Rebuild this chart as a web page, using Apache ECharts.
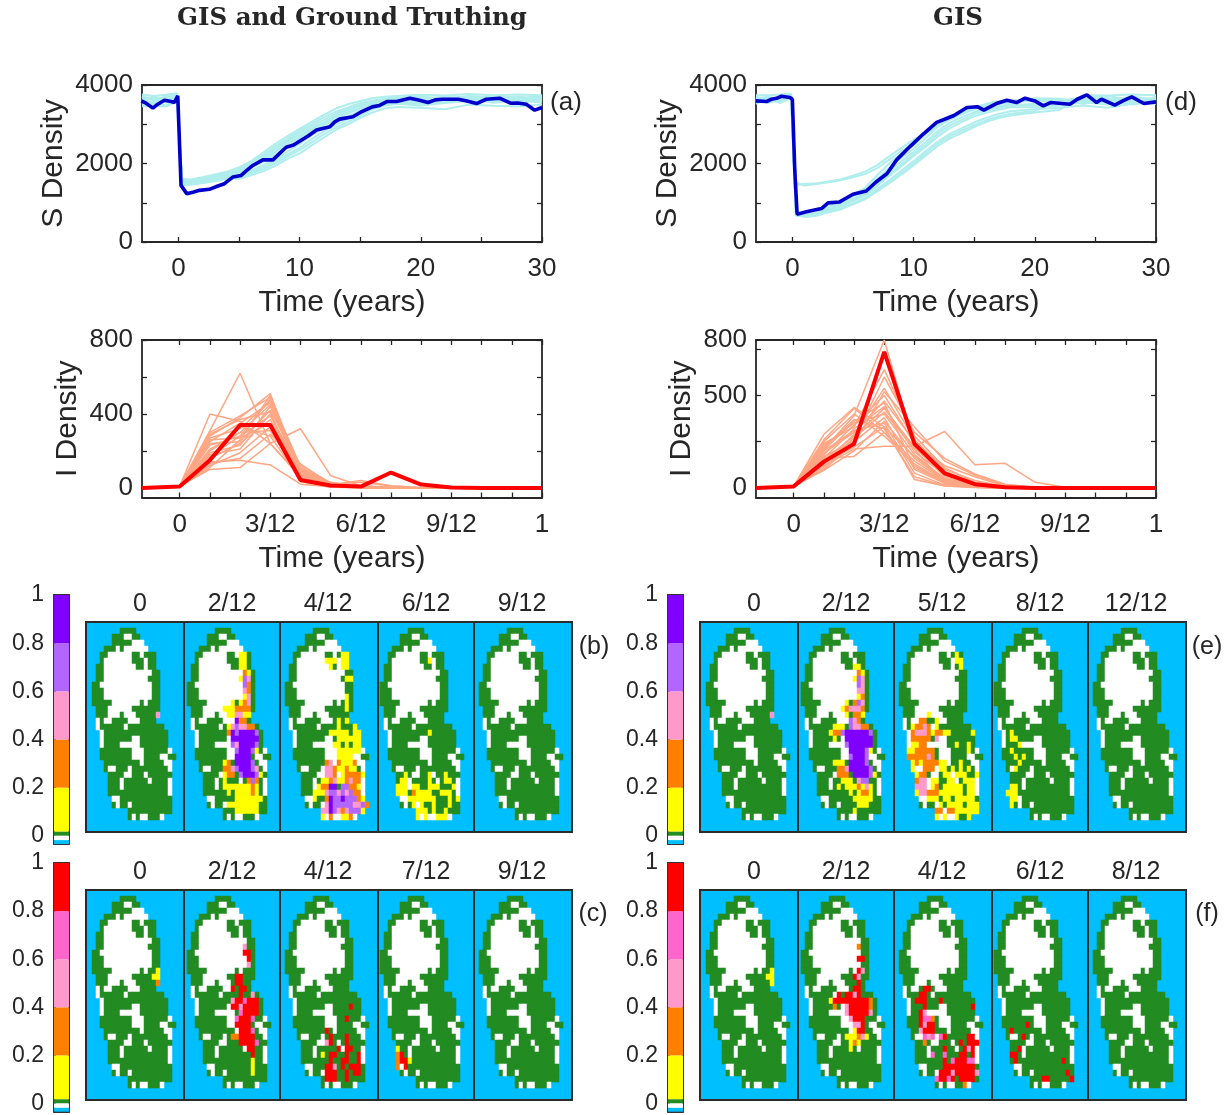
<!DOCTYPE html>
<html><head><meta charset="utf-8">
<style>html,body{margin:0;padding:0;background:#fff}#c{width:1231px;height:1115px}</style>
<script src="https://cdn.jsdelivr.net/npm/echarts@6/dist/echarts.min.js"></script></head>
<body><div id="c"></div>
<script>
// ---------- S density data (years, density)
const sYears=[-3,-2,-1,-0.1,0.3,1,2,3,4,5,6,7,8,9,10,11,12,13,14,15,16,17,18,20,22,24,26,28,30];
const sEnsembleA=[
[3700,3620,3680,3760,1590,1560,1620,1690,1760,1860,2020,2220,2440,2640,2830,3000,3180,3320,3430,3540,3600,3650,3680,3700,3660,3720,3680,3700,3650],
[3600,3680,3640,3700,1540,1520,1570,1640,1720,1800,1950,2120,2340,2560,2720,2900,3050,3230,3360,3470,3560,3600,3640,3640,3700,3620,3700,3660,3720],
[3560,3500,3600,3650,1500,1500,1540,1600,1680,1760,1880,2040,2220,2420,2620,2810,2980,3120,3280,3400,3500,3560,3610,3600,3620,3680,3600,3640,3600],
[3650,3700,3560,3720,1470,1480,1520,1580,1650,1720,1820,1960,2120,2300,2500,2720,2900,3050,3200,3340,3460,3520,3570,3560,3640,3560,3660,3580,3680],
[3500,3560,3480,3620,1560,1540,1590,1650,1700,1690,1790,1900,2060,2230,2400,2620,2820,2990,3130,3280,3420,3500,3540,3520,3560,3640,3550,3620,3550],
[3720,3600,3720,3680,1520,1510,1550,1620,1700,1780,1910,2080,2290,2500,2670,2850,3020,3180,3310,3430,3530,3620,3600,3680,3600,3700,3640,3560,3700],
[3620,3540,3620,3780,1450,1470,1510,1560,1630,1640,1750,1850,2000,2180,2340,2540,2740,2920,3060,3220,3380,3470,3520,3480,3540,3600,3620,3520,3640],
[3680,3640,3560,3700,1580,1550,1600,1670,1740,1830,1990,2170,2400,2600,2780,2950,3110,3270,3400,3500,3570,3640,3660,3640,3680,3660,3700,3680,3600],
[3760,3720,3750,3790,1610,1590,1650,1720,1790,1900,2060,2280,2500,2700,2880,3060,3240,3400,3510,3590,3660,3700,3720,3750,3730,3770,3740,3760,3740],
[3460,3470,3450,3600,1440,1460,1500,1550,1610,1610,1700,1800,1940,2120,2260,2460,2660,2860,3000,3160,3300,3400,3440,3420,3380,3500,3470,3450,3500]];
const sEnsembleD=[
[3650,3700,3640,3740,1520,1440,1480,1520,1570,1650,1730,1880,2100,2320,2520,2740,2950,3120,3260,3400,3480,3550,3600,3620,3560,3640,3580,3700,3600],
[3560,3600,3700,3680,1450,1480,1500,1540,1600,1690,1790,1960,2180,2400,2600,2800,3000,3160,3300,3430,3520,3590,3560,3660,3650,3560,3660,3540,3650],
[3620,3560,3600,3660,760,700,740,900,1040,1200,1380,1700,2000,2260,2450,2760,3040,3220,3330,3440,3500,3560,3600,3640,3560,3680,3720,3620,3560],
[3700,3620,3560,3720,720,680,720,870,1000,1160,1320,1600,1890,2150,2370,2650,2930,3130,3260,3380,3450,3510,3560,3600,3640,3520,3620,3700,3640],
[3520,3660,3640,3700,700,660,700,840,960,1100,1260,1520,1800,2060,2290,2550,2830,3040,3180,3310,3380,3450,3510,3480,3580,3660,3540,3620,3520],
[3640,3580,3720,3640,680,650,680,800,910,1040,1180,1430,1680,1930,2190,2420,2690,2900,3060,3200,3290,3370,3440,3430,3480,3560,3500,3560,3620],
[3580,3700,3540,3680,740,690,730,780,860,980,1120,1350,1580,1820,2060,2320,2560,2760,2900,3050,3160,3260,3330,3380,3420,3480,3420,3520,3700],
[3680,3540,3660,3760,670,670,710,760,830,960,1090,1310,1530,1760,2000,2260,2510,2700,2840,2980,3100,3200,3270,3340,3600,3680,3660,3500,3580],
[3600,3640,3600,3700,700,670,700,820,940,1070,1220,1480,1740,1980,2230,2480,2760,2970,3120,3260,3340,3420,3480,3520,3540,3600,3620,3600,3600],
[3740,3740,3760,3780,690,640,670,770,850,970,1100,1290,1500,1720,1950,2200,2450,2640,2780,2930,3060,3160,3220,3300,3360,3740,3730,3760,3740]];
const sMainA=[[-3.05,3595],[-2.67,3536],[-2.1,3410],[-1.7,3511],[-1.15,3612],[-0.6,3578],[-0.33,3553],[-0.05,3722],[0.22,1443],[0.69,1232],[1.2,1270],[1.74,1316],[2.56,1342],[3.2,1420],[3.8,1485],[4.49,1654],[5.18,1696],[5.7,1840],[6.14,1950],[6.97,2093],[7.8,2093],[8.4,2270],[8.9,2414],[9.5,2470],[10,2566],[10.7,2700],[11.4,2852],[12.5,2937],[12.9,3060],[13.3,3131],[14.4,3190],[15,3300],[16,3443],[16.6,3480],[17.2,3578],[18,3578],[19.1,3663],[19.8,3620],[20.6,3553],[21.2,3620],[21.8,3637],[23.1,3637],[23.8,3590],[24.6,3527],[25.4,3637],[26.5,3663],[27.4,3536],[28,3540],[28.7,3510],[29.4,3359],[30,3426]];
const sMainD=[[-3,3595],[-2.15,3578],[-1.73,3637],[-1.3,3660],[-0.9,3713],[-0.2,3680],[0,3637],[0.2,1823],[0.39,709],[1.16,768],[2.4,852],[2.95,996],[3.9,1021],[5,1215],[6.1,1300],[6.9,1528],[7.8,1739],[8.6,2093],[9.7,2431],[10.8,2751],[11.9,3047],[13.3,3216],[14.4,3427],[15.3,3444],[15.8,3359],[16.9,3536],[17.7,3612],[18.5,3553],[19.2,3663],[20,3595],[20.7,3469],[21.3,3553],[22.9,3511],[23.5,3637],[24.3,3747],[25.1,3553],[25.5,3637],[26.6,3486],[27.3,3600],[28,3697],[29,3528],[30,3570]];
// ---------- I density data (month index 0..13 -> years via iYears)
const iYears=[-0.104,0,1/12,2/12,3/12,4/12,5/12,6/12,7/12,8/12,9/12,10/12,11/12,1];
const iEnsembleA=[
[0,8,310,620,240,60,10,5,0,0,0,0,0,0],[0,8,400,360,240,60,12,4,0,0,0,0,0,0],[0,8,280,380,510,70,8,3,0,0,0,0,0,0],
[0,8,300,390,490,90,20,5,1,0,0,0,0,0],[0,8,100,110,240,320,66,12,3,0,0,0,0,0],[0,8,130,160,290,130,20,30,10,0,0,0,0,0],
[0,8,140,150,124,20,6,3,0,0,0,0,0,0],[0,8,270,320,470,60,5,2,0,0,0,0,0,0],[0,8,200,300,450,80,14,4,0,0,0,0,0,0],
[0,8,240,250,420,110,25,8,2,0,0,0,0,0],[0,8,180,210,400,70,10,3,0,0,0,0,0,0],[0,8,230,280,390,95,18,6,1,0,0,0,0,0],
[0,8,160,240,370,65,8,2,0,0,0,0,0,0],[0,8,260,270,350,85,16,40,12,2,0,0,0,0],[0,8,120,190,330,60,7,2,0,0,0,0,0,0],
[0,8,210,300,310,55,30,5,0,0,0,0,0,0],[0,8,150,330,280,50,6,2,0,0,0,0,0,0],[0,8,110,260,500,105,22,6,1,0,0,0,0,0],
[0,8,190,230,440,75,12,3,0,0,0,0,0,0],[0,8,250,350,460,100,20,8,2,0,0,0,0,0],[0,8,170,280,480,120,28,10,3,0,0,0,0,0],[0,8,290,370,410,35,4,1,0,0,0,0,0,0]];
const iEnsembleD=[
[0,8,290,435,330,170,50,15,2,0,0,0,0,0],[0,8,260,430,300,120,30,10,1,0,0,0,0,0],[0,8,210,390,800,230,90,25,5,0,0,0,0,0],
[0,8,240,330,640,280,110,30,6,0,0,0,0,0],[0,8,160,170,300,145,40,8,1,0,0,0,0,0],[0,8,120,210,225,225,305,125,133,30,3,0,0,0],
[0,8,100,240,520,330,145,70,15,2,0,0,0,0],[0,8,190,300,470,250,80,20,3,0,0,0,0,0],[0,8,150,280,430,220,60,12,2,0,0,0,0,0],
[0,8,230,350,400,180,50,10,1,0,0,0,0,0],[0,8,170,250,380,100,25,5,0,0,0,0,0,0],[0,8,200,310,350,80,15,4,0,0,0,0,0,0],
[0,8,130,290,540,260,100,40,8,1,0,0,0,0],[0,8,110,260,600,300,160,75,20,3,0,0,0,0],[0,8,180,340,500,240,120,60,10,0,0,0,0,0],
[0,8,140,220,330,45,10,2,0,0,0,0,0,0],[0,8,220,370,320,60,12,3,0,0,0,0,0,0],[0,8,250,400,280,130,35,8,1,0,0,0,0,0],
[0,8,95,200,360,160,45,10,2,0,0,0,0,0],[0,8,160,320,440,195,70,20,4,0,0,0,0,0],[0,8,125,270,410,210,20,6,1,0,0,0,0,0],[0,8,205,360,460,110,30,6,0,0,0,0,0,0]];
const iMainA=[0,8,150,340,340,43,13,7,83,18,2,0,0,0];
const iMainD=[0,8,142,238,736,238,79,20,4,0,0,0,0,0];
// ---------- Maps: w white, g green, . blue; overlays are "row col cells"
const baseMap=[
"........................","........gggg............","......gggwwgg...........","......gggggwww..........",
"....gggwgwwwwww.........","...ggwwwwwwggwggg.......","...gwwwwwwwgggwgg.......","..ggwwwwwwwwggwgg.......",
"..ggwwwwwwwwwwwwgg......","..ggwwwwwwwwwwwggg......",".ggwwwwwwwwwwwwwgg......",".gggwwwwwwwwwwwwgg......",
".gggwwwwwwwwwwwwgg......",".gggggwwwwwwwgwggg......","..gggwwwwwwggggggg......","..gggwwwgwwwggggg.......",
"..wgwwggggwwwgggg.......","..wggggggwggggggggg.....","...wgggggggggggggggg....","...wgggggggwwggggggg....",
"...wggggwwwwwggggggg....","...ggggggggwwwggggggw...","...ggggggggwwwggggwwgg..","....gggggggggwgggggww...",
"....gwwgggwgggggggggw...",".....ggggwwgggwgggggg...",".....gggwggggggwggggw...",".....gggwgggggggggggw...",
".....gggggggggggggggw...","......wwggggggggggggg...","......gwggwgggggggggg...","..........ggggggggggg...",
"..........gwgwwgggw.....","........................","........................"];
const panelB0=["15 17 P"];
const panelB2=["5 14 YY","6 14 YY","7 14 YY","8 15 OY","9 14 YLP","10 15 LO","11 15 PO","12 15 YP","13 12 Y","13 14 YOP","14 10 YYYOOOO","15 11 YYPPYY","16 13 VOO","17 11 YPLPPOO","18 11 OVLVVVVL","19 12 VVVVVVV","20 12 LPVVVVL","21 13 LVVVLY","22 13 VVVV","23 10 YO","23 13 VVVVL","24 10 OOPLVVVLP","25 10 YOO","25 14 LVVVLY","26 10 Y","26 14 wgOLO","27 10 YYYYYYYOY","28 11 Y","28 13 YYYYOY","29 13 YYYYYYY","30 11 YYYYYYYY","31 13 YYYYYY"];
const panelB4=["5 15 YY","6 11 YYY","6 15 YY","7 12 Y","7 15 YY","9 16 YY","12 16 Y","13 16 Y","14 16 Y","16 14 Y","16 16 Y","17 14 Y","17 18 Y","18 12 YYYYY","18 18 YY","19 14 YYYYYY","20 13 YY","20 16 Y","20 18 YY","21 14 YYYYYY","22 14 YYYYww","23 11 OPw","23 14 OYYYO","24 11 PPO","24 14 YYOYY","25 11 PPOwYOOOOY","26 10 YYOPYYOPOO","27 9 YOOVV","27 14 gLLOOY","28 8 YYYPLLPLPLOO","29 8 Y","29 11 OVLLVLLLOY","30 10 wPVLLLLLPPLO","31 10 PPVLPOPLLLY","32 10 YwOwwYYOw"];
const panelB6=["6 13 Y","18 13 Y","25 7 Y","25 13 Y","25 17 Y","26 6 YY","26 13 Y","26 17 YY","27 5 YYY","27 9 YY","27 13 YYY","27 19 Y","28 5 YYY","28 9 OYYYY","28 16 YYY","29 8 YYYYYYY","29 18 Y","29 20 Y","30 9 Y","30 11 Y","30 14 Y","30 18 Y","31 10 YYY","31 14 Y","31 17 Y","32 10 Y","32 12 Y","32 15 YYY"];
const panelB9=[];
const panelC0=["13 17 Y","14 16 YY","15 17 O"];
const panelC2=["9 15 P","10 15 RR","11 16 R","12 16 P","14 13 RR","15 13 RR","16 12 R","16 14 RR","17 14 R","17 17 P","18 12 PRRMRRR","19 12 RRPRRRR","20 14 MRRRR","21 13 MRRRM","22 13 RRRR","23 14 RRRM","24 12 OORRRR","25 14 RRRRM","26 16 RR","27 17 R","28 17 Y","29 17 Y","30 17 Y"];
const panelC4=["19 17 R","21 16 R","23 11 R","24 12 R","24 16 R","25 11 PR","25 16 R","26 14 R","26 16 RR","27 10 Y","27 12 RR","27 16 R","27 19 R","28 12 R","28 15 RR","28 19 R","29 11 RRP","29 15 R","29 17 RRR","30 11 RRR","30 16 R","30 18 RR","31 11 RRR","31 16 R"];
const panelC7=["26 5 Y","27 5 OR","28 5 ORR","28 8 Y","29 5 O","29 7 R"];
const panelC9=[];
const panelE0=["15 17 P"];
const panelE2=["7 14 YY","8 15 OY","9 14 YLP","10 15 LP","11 15 PP","12 15 YO","13 12 Y","13 14 OLP","14 11 YO","14 13 PPPO","15 12 Y","15 14 OOY","16 13 LPO","17 9 YYY","17 13 LPPOO","18 8 YOOLVVVVVVL","19 9 Y","19 12 VVVVVVV","20 12 LVVVVVV","21 13 VVVVLY","22 13 LVVVL","23 9 YYY","23 13 VVVVL","24 10 OOPVVVVVL","25 10 OOO","25 14 VVVVLY","26 11 YYY","26 15 PLL","27 10 Y","27 12 YYYOYPY","28 13 Y","28 15 YOOY","29 14 YYYYY","30 15 YYY","31 14 Y"];
const panelE5=["5 15 Y","6 15 YY","7 16 Y","15 8 Y","16 6 OO","16 10 Y","17 4 YOOPO","17 10 Y","18 4 OPPPOYOOYY","18 19 Y","19 4 OOOOO","19 10 P","20 4 YYOO","20 15 Y","20 18 Y","21 3 YYOOOOO","21 18 Y","22 3 OOOOOPO","23 4 YOYOOOOYY","23 16 Y","24 4 Y","24 7 OOO","24 11 YY","24 14 Y","24 16 Y","24 18 Y","25 5 YOO","25 12 YY","25 15 YYY","25 20 Y","26 5 OPP","26 9 YY","26 13 YY","26 17 YYY","27 5 PPP","27 9 YO","27 12 YYYYY","27 18 YY","28 5 YPPOOOYYYYYY","28 18 YY","29 8 YYY","29 12 YY","29 15 YYYYY","30 11 Y","30 13 YYYY","30 18 YYY","31 10 OOw","31 13 OOYYYYYY","32 10 YwYww","32 15 Y","32 18 Y"];
const panelE8=["18 5 Y","19 5 YY","20 7 Y","21 5 Y","22 6 Y","22 8 Y","23 7 Y","24 6 Y","27 5 YY","28 4 YYY","29 5 YY","30 5 Y"];
const panelE12=[];
const panelF0=["13 17 Y","14 16 YY","15 17 Y"];
const panelF2=["9 15 O","11 15 RR","13 15 RP","14 14 RP","15 15 R","16 14 RR","17 10 R","17 12 RRPR","18 8 YRRRRRRRRRO","19 9 O","19 12 PRRRRRO","20 12 PRRRRRP","21 13 PRRR","22 14 PPR","23 14 YRR","24 12 YYYOPY","25 13 YOY","26 13 Y"];
const panelF4=["16 7 RR","17 6 RR","18 5 RRR","18 11 R","19 7 R","19 19 R","20 6 RP","21 6 RMMO","22 6 R","22 7 PRR","23 6 PRRR","24 7 MPM","24 11 MR","24 18 RR","25 7 O","25 16 R","25 18 RRR","26 12 R","26 17 RPR","27 9 M","27 12 M","27 16 RR","27 19 R","28 12 R","28 14 MRRRMM","29 12 RRRRRRRR","30 11 RRRPRRRRRP","31 10 MRRMRg","31 16 RRRR","32 17 O"];
const panelF6=["22 9 R","23 5 R","24 8 R","26 7 R","27 5 RR","28 6 R","28 18 R","30 19 R","31 13 RR","31 20 R"];
const panelF8=[];
const colorbarValues=[0.018,0.182,0.2,0.2,0.2,0.2];
const colorbarBelow=[-0.018,-0.016];
const sLabels=['0','2000','4000'];
// ---------- layout & style
const FONT='"Liberation Sans"',INK='#262626';
const PAL={w:'#ffffff',g:'#228b22',Y:'#ffff00',O:'#ff8000',P:'#ff99cc',L:'#b366ff',V:'#8000ff',R:'#ff0000',M:'#ff66cc'};
const CODES=Object.keys(PAL);
const grids=[],xAxes=[],yAxes=[],series=[],graphics=[],heatIdx=[];
function txt(x,y,t,fs,extra){graphics.push({type:'text',x,y,silent:true,style:Object.assign({text:t,fontSize:fs,fontFamily:FONT,fill:INK,align:'center',verticalAlign:'middle'},extra||{})});}
function linePanel(o){
  const g=grids.length;
  grids.push({left:o.l,top:o.t,width:o.w,height:o.h,containLabel:false});
  const tick=v=>({show:true,inside:true,length:5,lineStyle:{color:INK,width:1.3},customValues:v});
  const line={show:true,onZero:false,lineStyle:{color:INK,width:1.8}};
  xAxes.push({gridIndex:g,type:'value',min:o.xmin,max:o.xmax,position:'bottom',splitLine:{show:false},axisLine:line,axisTick:tick(o.xticks),
    axisLabel:{customValues:o.xlabels,formatter:o.xfmt,fontSize:26,fontFamily:FONT,color:INK,margin:14,hideOverlap:false},
    name:'Time (years)',nameLocation:'middle',nameGap:46,nameTextStyle:{fontSize:30,fontFamily:FONT,color:INK}});
  xAxes.push({gridIndex:g,type:'value',min:o.xmin,max:o.xmax,position:'top',splitLine:{show:false},axisLine:line,axisTick:o.topTicks?tick(o.xticks):{show:false},axisLabel:{show:false}});
  yAxes.push({gridIndex:g,type:'value',min:o.ymin,max:o.ymax,position:'left',splitLine:{show:false},axisLine:line,axisTick:tick(o.yticks),
    axisLabel:{customValues:o.ylabels,formatter:v=>String(v),fontSize:26,fontFamily:FONT,color:INK,margin:9,padding:[8,0,0,0]},
    name:o.yname,nameLocation:'middle',nameGap:o.ygap,nameTextStyle:{fontSize:30,fontFamily:FONT,color:INK}});
  yAxes.push({gridIndex:g,type:'value',min:o.ymin,max:o.ymax,position:'right',splitLine:{show:false},axisLine:line,axisTick:tick(o.yticks),axisLabel:{show:false}});
  const yi=yAxes.length-2;
  o.lines.forEach(d=>series.push({type:'line',xAxisIndex:xAxes.length-2,yAxisIndex:yi,data:d,symbol:'none',silent:true,animation:false,lineStyle:{color:o.thin,width:o.thinW}}));
  series.push({type:'line',xAxisIndex:xAxes.length-2,yAxisIndex:yi,data:o.main,symbol:'none',silent:true,animation:false,z:5,lineStyle:{color:o.mainColor,width:o.mainW}});
}
const zip=(xs,ys)=>ys.map((v,i)=>[xs[i],v]);
const sTicks=[0,5,10,15,20,25,30],iTicks=[0,1,2,3,4,5,6,7,8,9,10,11,12].map(m=>m/12);
const iFmt=v=>{const m=Math.round(v*12);return m===0?'0':m===12?'1':m+'/12';};
[[142,sEnsembleA,sMainA],[756,sEnsembleD,sMainD]].forEach(a=>linePanel({l:a[0],t:85,w:400,h:157,xmin:-3,xmax:30,xticks:sTicks,xlabels:[0,10,20,30],xfmt:v=>String(v),
  ymin:0,ymax:4000,yticks:[0,1000,2000,3000,4000],ylabels:sLabels.map(Number),yname:'S Density',ygap:73,lines:a[1].map(d=>zip(sYears,d)),main:a[2],thin:'#b0eded',thinW:2,mainColor:'#0000cd',mainW:3.6}));
linePanel({l:142,t:340,w:400,h:157.5,xmin:-0.104,xmax:1,xticks:iTicks,xlabels:[0,.25,.5,.75,1],xfmt:iFmt,topTicks:true,ymin:-52,ymax:800,yticks:[0,200,400,600,800],ylabels:[0,400,800],yname:'I Density',ygap:59,
  lines:iEnsembleA.map(d=>zip(iYears,d)),main:zip(iYears,iMainA),thin:'#ffa684',thinW:1.5,mainColor:'#ff0000',mainW:4});
linePanel({l:756,t:340,w:400,h:157.5,xmin:-0.104,xmax:1,xticks:iTicks,xlabels:[0,.25,.5,.75,1],xfmt:iFmt,topTicks:true,ymin:-52,ymax:800,yticks:[0,250,500,750],ylabels:[0,500,800],yname:'I Density',ygap:59,
  lines:iEnsembleD.map(d=>zip(iYears,d)),main:zip(iYears,iMainD),thin:'#ffa684',thinW:1.5,mainColor:'#ff0000',mainW:4});
// maps
const frameX=[86,184,280,378,474,572],mapX=[88,183,281,376,475],titleX=[140,232,328,426,522];
const rowCats=baseMap.map((_,i)=>i),colCats=Array.from({length:24},(_,i)=>i);
function mapPanel(dx,top,i,overlay,title){
  const cells=baseMap.map(r=>r.split(''));
  overlay.forEach(s=>{const p=s.split(' ');const r=+p[0],c=+p[1];p[2].split('').forEach((ch,k)=>{cells[r][c+k]=ch;});});
  grids.push({left:frameX[i]+dx,top,width:frameX[i+1]-frameX[i],height:210,show:true,backgroundColor:'#00bfff',borderColor:'#2b2b2b',borderWidth:2});
  const g=grids.length;
  grids.push({left:mapX[i]+dx,top,width:96,height:210});
  xAxes.push({gridIndex:g,type:'category',data:colCats,show:false});
  yAxes.push({gridIndex:g,type:'category',data:rowCats,inverse:true,show:false});
  const data=[];
  cells.forEach((row,r)=>row.forEach((ch,c)=>{if(ch!=='.')data.push([c,r,CODES.indexOf(ch)]);}));
  heatIdx.push(series.length);
  series.push({type:'heatmap',xAxisIndex:xAxes.length-1,yAxisIndex:yAxes.length-1,data,silent:true,animation:false,progressive:0,itemStyle:{borderWidth:0}});
  txt(titleX[i]+dx,top-18,title,25);
}
function mapRow(dx,top,titles,panels){titles.forEach((s,i)=>mapPanel(dx,top,i,panels[i],s));}
mapRow(0,622,['0','2/12','4/12','6/12','9/12'],[panelB0,panelB2,panelB4,panelB6,panelB9]);
mapRow(0,890,['0','2/12','4/12','7/12','9/12'],[panelC0,panelC2,panelC4,panelC7,panelC9]);
mapRow(614,622,['0','2/12','5/12','8/12','12/12'],[panelE0,panelE2,panelE5,panelE8,panelE12]);
mapRow(614,890,['0','2/12','4/12','6/12','8/12'],[panelF0,panelF2,panelF4,panelF6,panelF8]);
// colour bars
function colorbar(l,t,cols){
  const g=grids.length;
  grids.push({left:l,top:t,width:15,height:249});
  const xl={show:true,onZero:false,lineStyle:{color:'#333',width:2}};
  xAxes.push({gridIndex:g,type:'category',data:['c'],axisLine:xl,axisTick:{show:false},axisLabel:{show:false},position:'bottom'});
  xAxes.push({gridIndex:g,type:'category',data:['c'],axisLine:xl,axisTick:{show:false},axisLabel:{show:false},position:'top'});
  const vals=[0,.2,.4,.6,.8,1];
  yAxes.push({gridIndex:g,type:'value',min:-0.034,max:1,position:'left',splitLine:{show:false},axisLine:{show:true,onZero:false,lineStyle:{color:'#333',width:2}},axisTick:{show:true,inside:true,length:2,lineStyle:{color:'#222'},customValues:vals},
    axisLabel:{customValues:vals,fontSize:23,fontFamily:FONT,color:INK,margin:10,padding:[8,0,0,0],formatter:v=>String(+v.toFixed(1))}});
  yAxes.push({gridIndex:g,type:'value',min:-0.034,max:1,position:'right',splitLine:{show:false},axisLine:{show:true,onZero:false,lineStyle:{color:'#333',width:2}},axisTick:{show:false},axisLabel:{show:false}});
  const xi=xAxes.length-2,yi=yAxes.length-2;
  colorbarValues.forEach((v,i)=>series.push({type:'bar',stack:'cb'+g,xAxisIndex:xi,yAxisIndex:yi,barWidth:'100%',data:[v],silent:true,animation:false,itemStyle:{color:cols[i]}}));
  colorbarBelow.forEach((v,i)=>series.push({type:'bar',stack:'cb'+g,xAxisIndex:xi,yAxisIndex:yi,barWidth:'100%',data:[v],silent:true,animation:false,itemStyle:{color:['#ffffff','#00bfff'][i]}}));
}
const topCols=[PAL.g,PAL.Y,PAL.O,PAL.P,PAL.L,PAL.V],botCols=[PAL.g,PAL.Y,PAL.O,PAL.P,PAL.M,PAL.R];
colorbar(54,595,topCols);colorbar(54,863,botCols);colorbar(668,595,topCols);colorbar(668,863,botCols);
// texts
const tF='"DejaVu Serif"';
txt(352,19,'GIS and Ground Truthing',24.5,{fontFamily:tF,fontWeight:'bold'});
txt(958,19,'GIS',24.5,{fontFamily:tF,fontWeight:'bold'});
txt(566,103,'(a)',26);txt(1181,103,'(d)',26);
txt(594,647,'(b)',25);txt(593,914,'(c)',25);txt(1207,647,'(e)',25);txt(1207,914,'(f)',25);
const chart=echarts.init(document.getElementById('c'),null,{renderer:'canvas'});
chart.setOption({animation:false,backgroundColor:'#fff',grid:grids,xAxis:xAxes,yAxis:yAxes,series,graphic:{elements:graphics},
  visualMap:{show:false,type:'piecewise',dimension:2,seriesIndex:heatIdx,pieces:CODES.map((c,i)=>({value:i,color:PAL[c]}))}});
</script></body></html>
